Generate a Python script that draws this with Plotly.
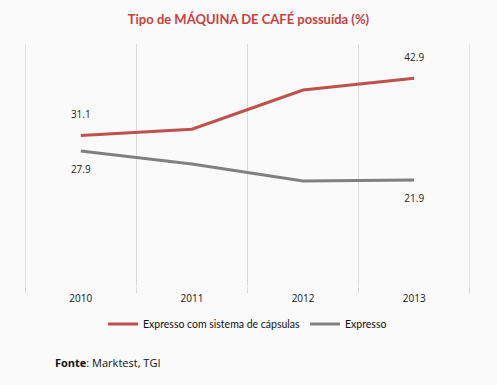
import plotly.graph_objects as go

years = ["2010", "2011", "2012", "2013"]
capsulas = [31.1, 32.4, 40.5, 42.9]
expresso = [27.9, 25.2, 21.7, 21.9]
name_capsulas = "Expresso com sistema de cápsulas"
name_expresso = "Expresso"

def end_labels(vals):
    return [f"{v:.1f}" if i in (0, len(vals) - 1) else "" for i, v in enumerate(vals)]

fig = go.Figure()
fig.add_trace(go.Scatter(
    x=years, y=capsulas, name=name_capsulas, mode="lines+markers+text",
    line=dict(color="#c0504d", width=3),
    marker=dict(size=22, color="rgba(0,0,0,0)"),
    text=end_labels(capsulas), textposition="top center",
    textfont=dict(family="Open Sans, DejaVu Sans", size=10, color="#222222"),
))
fig.add_trace(go.Scatter(
    x=years, y=expresso, name=name_expresso, mode="lines+markers+text",
    line=dict(color="#808080", width=3),
    marker=dict(size=22, color="rgba(0,0,0,0)"),
    text=end_labels(expresso), textposition="bottom center",
    textfont=dict(family="Open Sans, DejaVu Sans", size=10, color="#222222"),
))

# edge gridlines at the outer category boundaries
n = len(years)
for xb in (-0.5, n - 0.5):
    fig.add_shape(type="line", xref="x", yref="paper", x0=xb, x1=xb,
                  y0=-6 / 242, y1=1, line=dict(color="#d9d9d9", width=1), layer="below")

fig.update_layout(
    width=497, height=385,
    margin=dict(l=25, r=27, t=44, b=99),
    paper_bgcolor="#fafafa", plot_bgcolor="#fafafa",
    title=dict(text="<b>Tipo de MÁQUINA DE CAFÉ possuída (%)</b>",
               x=0.5, xanchor="center", y=1 - 19 / 385, yanchor="middle",
               font=dict(family="Lato, Noto Sans", size=13, color="#c9403e")),
    showlegend=True,
    legend=dict(orientation="h", x=0.5, xanchor="center", y=-0.157, yanchor="middle",
                font=dict(family="Lato, Noto Sans", size=10.5, color="#111111"),
                itemwidth=30, bgcolor="rgba(0,0,0,0)"),
    xaxis=dict(type="category", tickson="boundaries", showgrid=True,
               gridcolor="#d9d9d9", gridwidth=1, ticks="outside", ticklen=6,
               tickcolor="#d9d9d9", showline=False, zeroline=False,
               ticklabelstandoff=5,
               tickfont=dict(family="Open Sans, DejaVu Sans", size=10, color="#111111"),
               range=[-0.502, n - 0.498]),
    yaxis=dict(range=[0, 50], visible=False, showgrid=False, zeroline=False),
    annotations=[dict(text="<b>Fonte</b>: Marktest, TGI", xref="paper", yref="paper",
                      x=(53 - 25) / 445, y=(286 - 362) / 242, xanchor="left", yanchor="middle",
                      showarrow=False,
                      font=dict(family="Open Sans, DejaVu Sans", size=11, color="#111111"))],
)

fig.write_html("out.html", config={"displayModeBar": False},
               post_script="document.body.style.margin='0';")
